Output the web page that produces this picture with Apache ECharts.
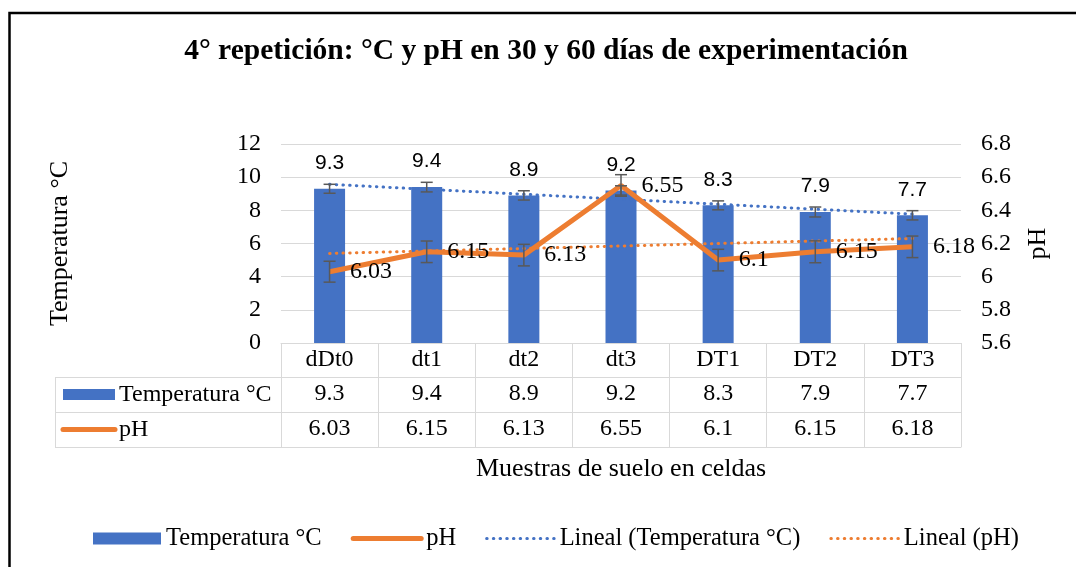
<!DOCTYPE html>
<html>
<head>
<meta charset="utf-8">
<script src="https://cdn.jsdelivr.net/npm/echarts@6/dist/echarts.min.js"></script>
<style>
  html, body { margin: 0; padding: 0; background: #fff; }
  #chart { width: 1076px; height: 567px; }
</style>
</head>
<body>
<div id="chart"></div>
<script>
const categories = ['dDt0', 'dt1', 'dt2', 'dt3', 'DT1', 'DT2', 'DT3'];
const temperatura = [9.3, 9.4, 8.9, 9.2, 8.3, 7.9, 7.7];
const ph = [6.03, 6.15, 6.13, 6.55, 6.1, 6.15, 6.18];
// error bar half-lengths
const tempErr = [0.27, 0.29, 0.28, 0.28, 0.27, 0.3, 0.28];
const phErr = [0.063, 0.065, 0.065, 0.065, 0.065, 0.066, 0.065];
// linear trendlines, value at first and last sample
const tempTrend = [9.57, 7.77];
const phTrend = [6.14, 6.23];

const SERIF = 'Liberation Serif';
const SANS = 'Liberation Sans';
const BLUE = '#4472C4';
const ORANGE = '#ED7D31';
const GRIDC = '#D9D9D9';
const DOTS = [0.5, 6.2];

// layout
const G_LEFT = 281, G_RIGHT = 961, G_TOP = 144, G_BOTTOM = 343;
const ROWS = [343, 377, 412, 447];
const TABLE_LEFT = 55;

var chart = echarts.init(document.getElementById('chart'));

function errorBars(name, values, errs, yIdx) {
  return {
    name: name,
    type: 'custom',
    yAxisIndex: yIdx,
    z: 5,
    silent: true,
    data: values.map((v, i) => [i, v - errs[i], v + errs[i]]),
    encode: { x: 0, y: [1, 2] },
    renderItem: function (params, api) {
      var lo = api.coord([api.value(0), api.value(1)]);
      var hi = api.coord([api.value(0), api.value(2)]);
      var c = 6;
      var st = { stroke: '#595959', lineWidth: 1.5, fill: null };
      return {
        type: 'group',
        children: [
          { type: 'line', shape: { x1: lo[0], y1: lo[1], x2: hi[0], y2: hi[1] }, style: st },
          { type: 'line', shape: { x1: lo[0] - c, y1: lo[1], x2: lo[0] + c, y2: lo[1] }, style: st },
          { type: 'line', shape: { x1: hi[0] - c, y1: hi[1], x2: hi[0] + c, y2: hi[1] }, style: st }
        ]
      };
    }
  };
}

function tableAxis(offset, values, tickLen) {
  return {
    type: 'category',
    data: categories,
    position: 'bottom',
    offset: offset,
    axisLine: { show: true, lineStyle: { color: GRIDC, width: 1 } },
    axisTick: { show: tickLen > 0, length: tickLen, interval: 0, lineStyle: { color: GRIDC } },
    axisLabel: {
      show: !!values,
      margin: 5,
      interval: 0,
      fontFamily: SERIF,
      fontSize: 24,
      color: '#000',
      formatter: function (v, i) { return values ? String(values[i]) : ''; }
    },
    splitLine: { show: false }
  };
}

var bottomAxis = tableAxis(ROWS[3] - G_BOTTOM, null, 0);
bottomAxis.name = 'Muestras de suelo en celdas';
bottomAxis.nameLocation = 'middle';
bottomAxis.nameGap = 9;
bottomAxis.nameTextStyle = { fontFamily: SERIF, fontSize: 26, color: '#000', verticalAlign: 'top' };

var tableLines = [];
ROWS.slice(1).forEach(function (y) {
  tableLines.push({ type: 'line', shape: { x1: TABLE_LEFT, y1: y + 0.5, x2: G_LEFT, y2: y + 0.5 }, style: { stroke: GRIDC, lineWidth: 1 } });
});
tableLines.push({ type: 'line', shape: { x1: TABLE_LEFT + 0.5, y1: ROWS[1], x2: TABLE_LEFT + 0.5, y2: ROWS[3] }, style: { stroke: GRIDC, lineWidth: 1 } });

chart.setOption({
  animation: false,
  backgroundColor: '#fff',
  title: {
    text: '4° repetición: °C y pH en 30 y 60 días de experimentación',
    left: 541,
    textAlign: 'center',
    top: 31,
    textStyle: { fontFamily: SERIF, fontSize: 29.5, fontWeight: 'bold', color: '#000' }
  },
  legend: {
    left: 93,
    top: 526,
    padding: 0,
    itemWidth: 68,
    itemHeight: 12,
    itemGap: 29,
    textStyle: { fontFamily: SERIF, fontSize: 24.5, color: '#000' },
    data: [
      { name: 'Temperatura °C', icon: 'rect' },
      { name: 'pH', itemStyle: { opacity: 0 }, lineStyle: { width: 5, cap: 'round' } },
      { name: 'Lineal (Temperatura °C)', itemStyle: { opacity: 0 }, lineStyle: { width: 3, type: DOTS, cap: 'round' } },
      { name: 'Lineal (pH)', itemStyle: { opacity: 0 }, lineStyle: { width: 3, type: DOTS, cap: 'round' } }
    ]
  },
  grid: { left: G_LEFT, right: 1076 - G_RIGHT, top: G_TOP, bottom: 567 - G_BOTTOM, containLabel: false },
  xAxis: [
    tableAxis(0, categories, ROWS[1] - ROWS[0]),
    tableAxis(ROWS[1] - G_BOTTOM, temperatura, ROWS[2] - ROWS[1]),
    tableAxis(ROWS[2] - G_BOTTOM, ph, ROWS[3] - ROWS[2]),
    bottomAxis
  ],
  yAxis: [
    {
      type: 'value', min: 0, max: 12, interval: 2,
      name: 'Temperatura °C', nameLocation: 'middle', nameGap: 208, nameRotate: 90,
      nameTextStyle: { fontFamily: SERIF, fontSize: 26, color: '#000' },
      axisLine: { show: false }, axisTick: { show: false },
      axisLabel: { fontFamily: SERIF, fontSize: 24, color: '#000', margin: 20 },
      splitLine: { lineStyle: { color: GRIDC, width: 1 } }
    },
    {
      type: 'value', min: 5.6, max: 6.8, interval: 0.2,
      name: 'pH', nameLocation: 'middle', nameGap: 64, nameRotate: 90,
      nameTextStyle: { fontFamily: SERIF, fontSize: 26, color: '#000' },
      axisLine: { show: false }, axisTick: { show: false },
      axisLabel: { fontFamily: SERIF, fontSize: 24, color: '#000', margin: 20,
        formatter: function (v) { return String(Math.round(v * 10) / 10); } },
      splitLine: { show: false }
    }
  ],
  series: [
    {
      name: 'Temperatura °C',
      type: 'bar',
      data: temperatura,
      barWidth: 31,
      itemStyle: { color: BLUE },
      label: { show: true, position: 'top', distance: 15, fontFamily: SANS, fontSize: 21, color: '#000' },
      z: 2
    },
    errorBars('errTemp', temperatura, tempErr, 0),
    {
      name: 'Lineal (Temperatura °C)',
      type: 'line',
      data: [[categories[0], tempTrend[0]], [categories[categories.length - 1], tempTrend[1]]],
      symbol: 'none',
      lineStyle: { color: BLUE, width: 3, type: DOTS, cap: 'round' },
      itemStyle: { color: BLUE },
      z: 3
    },
    {
      name: 'Lineal (pH)',
      type: 'line',
      yAxisIndex: 1,
      data: [[categories[0], phTrend[0]], [categories[categories.length - 1], phTrend[1]]],
      symbol: 'none',
      lineStyle: { color: ORANGE, width: 3, type: DOTS, cap: 'round' },
      itemStyle: { color: ORANGE },
      z: 3
    },
    {
      name: 'pH',
      type: 'line',
      yAxisIndex: 1,
      data: ph,
      symbol: 'circle',
      symbolSize: 1,
      showSymbol: true,
      lineStyle: { color: ORANGE, width: 5 },
      itemStyle: { color: ORANGE },
      label: { show: true, position: 'right', distance: 20, fontFamily: SERIF, fontSize: 24, color: '#000' },
      z: 4
    },
    errorBars('errPh', ph, phErr, 1)
  ],
  graphic: tableLines.concat([
    // outer frame
    { type: 'rect', shape: { x: 9.5, y: 13, width: 1200, height: 700 }, style: { fill: null, stroke: '#000', lineWidth: 2.5 }, silent: true },
    // row headers of data table
    { type: 'rect', shape: { x: 63, y: 389, width: 52, height: 11 }, style: { fill: BLUE } },
    { type: 'text', x: 119, y: 395, style: { text: 'Temperatura °C', font: '24px "Liberation Serif"', fill: '#000', verticalAlign: 'middle' } },
    { type: 'line', shape: { x1: 63, y1: 429.5, x2: 115, y2: 429.5 }, style: { stroke: ORANGE, lineWidth: 5, lineCap: 'round' } },
    { type: 'text', x: 119, y: 430, style: { text: 'pH', font: '24px "Liberation Serif"', fill: '#000', verticalAlign: 'middle' } }
  ])
});
</script>
</body>
</html>
